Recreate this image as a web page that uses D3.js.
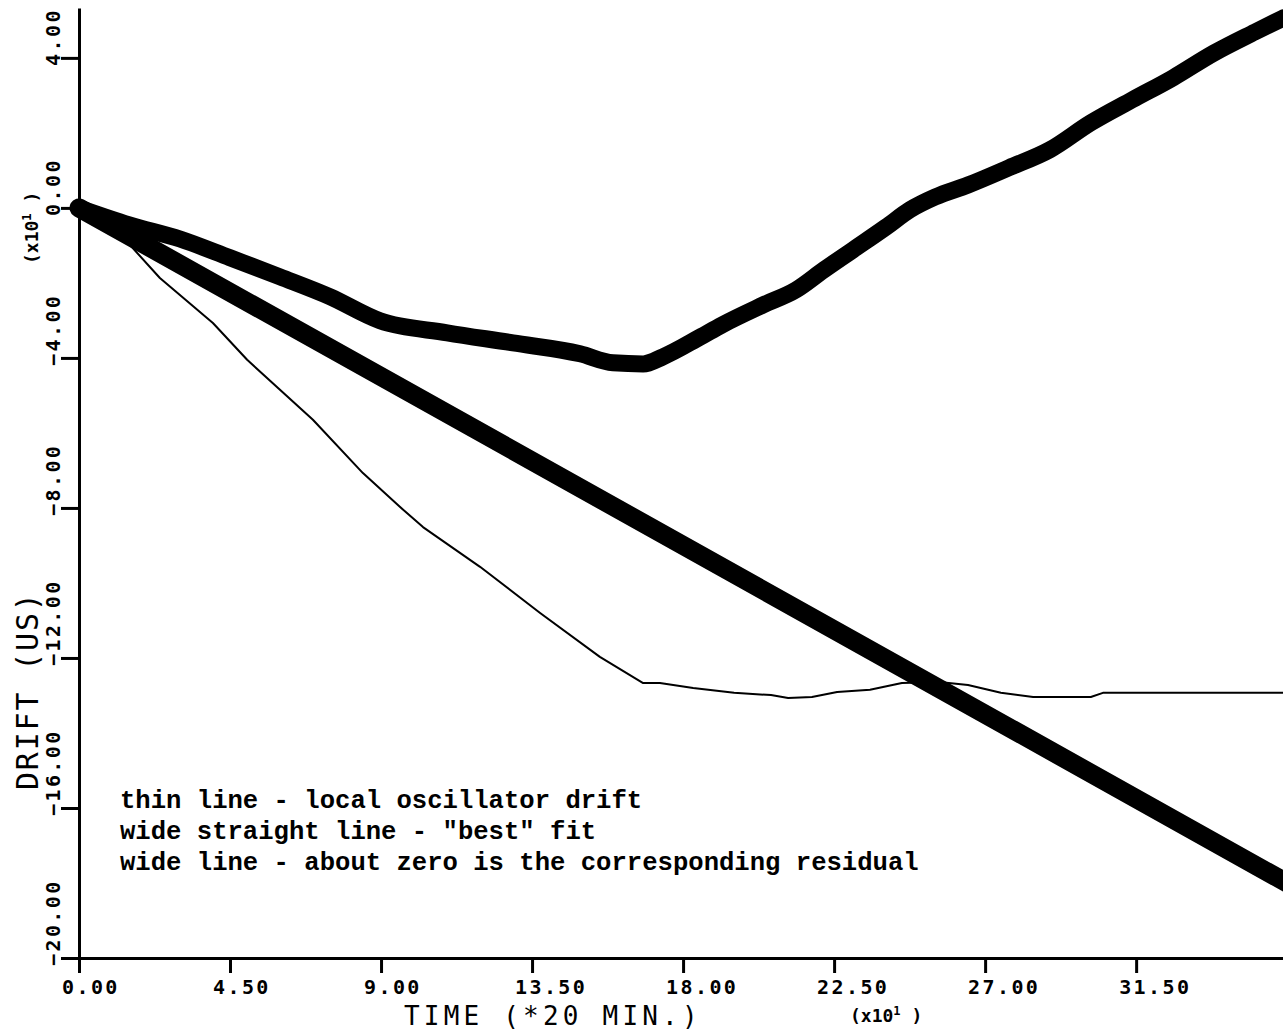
<!DOCTYPE html>
<html>
<head>
<meta charset="utf-8">
<script src="https://cdn.jsdelivr.net/npm/d3@7"></script>
<style>
  html, body { margin: 0; padding: 0; background: #fff; overflow: hidden; }
  svg { display: block; }
  .tick-label { font-family: "DejaVu Sans Mono", monospace; font-weight: bold; font-size: 20px; letter-spacing: 2.4px; fill: #000; }
  .axis-title { font-family: "DejaVu Sans Mono", monospace; font-size: 30px; letter-spacing: 1.8px; fill: #000; }
  .x-title { font-size: 26px; letter-spacing: 4.2px; }
  .mult { font-family: "DejaVu Sans Mono", monospace; font-weight: bold; font-size: 18px; fill: #000; }
  .legend { font-family: "Courier New", "Liberation Mono", monospace; font-weight: bold; font-size: 25.6px; fill: #000; }
</style>
</head>
<body>
<svg id="chart" width="1283" height="1032"></svg>
<script>
// Time axis in units of 10 samples (1 sample = 20 min); drift in units of 10 µs.
const driftTime  = [0, 1.52, 2.41, 3.99, 5.01, 6.97, 8.46, 9.56, 10.25, 11.95, 13.74, 15.52, 16.81, 17.31,
                    18.3, 19.52, 20.62, 21.13, 21.84, 22.59, 23.57, 24.52, 25.63, 26.49, 27.47, 28.43,
                    30.15, 30.51, 32.6, 35.9];
const driftValue = [0, -0.99, -1.87, -3.07, -4.05, -5.65, -7.07, -7.97, -8.51, -9.57, -10.8, -11.97, -12.67, -12.67,
                    -12.8, -12.93, -12.99, -13.07, -13.04, -12.91, -12.85, -12.67, -12.64, -12.72, -12.93, -13.04,
                    -13.04, -12.93, -12.93, -12.93];

// Least-squares line through the drift record
const fitTime  = [0, 36];
const fitValue = [0, -18];

// Drift minus the fitted line
const residualTime  = [0, 1.5, 3.01, 4.5, 5.99, 7.48, 8.97, 10.97, 12.93, 14.93, 15.91, 16.81, 17.4,
                       18.5, 19.16, 20.38, 21.36, 22.2, 23.06, 24.05, 24.76, 25.51, 26.49, 27.71, 28.93,
                       30.15, 31.38, 32.6, 33.82, 35.04, 35.9];
const residualValue = [0, -0.45, -0.83, -1.33, -1.84, -2.37, -3.01, -3.33, -3.6, -3.89, -4.13, -4.16, -3.97,
                       -3.45, -3.12, -2.59, -2.19, -1.65, -1.12, -0.51, -0.05, 0.29, 0.61, 1.07, 1.55,
                       2.27, 2.88, 3.47, 4.13, 4.69, 5.07];

const xTicks = [0, 4.5, 9, 13.5, 18, 22.5, 27, 31.5];
const yTicks = [-20, -16, -12, -8, -4, 0, 4];

const legendLines = [
  "thin line - local oscillator drift",
  "wide straight line - \"best\" fit",
  "wide line - about zero is the corresponding residual"
];

const svg = d3.select("#chart");

const x = d3.scaleLinear().domain([0, 36]).range([79, 79 + 36 * 33.56]);
const y = d3.scaleLinear().domain([-20, 5.33]).range([958, 8]);

// Axes
const yAxis = d3.axisLeft(y).tickValues(yTicks).tickSize(18).tickSizeOuter(0).tickFormat("");
const xAxis = d3.axisBottom(x).tickValues(xTicks).tickSize(15).tickSizeOuter(0).tickFormat("");

const gy = svg.append("g").attr("transform", `translate(${x(0)},0)`).call(yAxis);
const gx = svg.append("g").attr("transform", `translate(0,${y(-20)})`).call(xAxis);
[gy, gx].forEach(g => {
  g.selectAll("path.domain").attr("stroke", "#000").attr("stroke-width", 3);
  g.selectAll(".tick line").attr("stroke", "#000").attr("stroke-width", 3);
});

// Y tick labels, written upward along the axis
svg.append("g").selectAll("text").data(yTicks).join("text")
  .attr("class", "tick-label")
  .attr("text-anchor", "start")
  .attr("transform", d => `translate(60,${y(d) + 8}) rotate(-90)`)
  .text(d => d3.format(".2f")(d));

// X tick labels
svg.append("g").selectAll("text").data(xTicks).join("text")
  .attr("class", "tick-label")
  .attr("text-anchor", "start")
  .attr("x", d => x(d) - 17)
  .attr("y", 994)
  .text(d => d3.format(".2f")(d));

// Axis titles and scale multipliers
svg.append("text").attr("class", "axis-title")
  .attr("transform", "translate(38,790) rotate(-90)")
  .text("DRIFT (US)");
svg.append("text").attr("class", "axis-title x-title")
  .attr("x", 404).attr("y", 1025)
  .text("TIME (*20 MIN.)");

const yMult = svg.append("text").attr("class", "mult")
  .attr("transform", "translate(38,264) rotate(-90)");
yMult.append("tspan").text("(x10");
yMult.append("tspan").attr("dy", -7).attr("font-size", 12).text("1");
yMult.append("tspan").attr("dy", 7).text(" )");

const xMult = svg.append("text").attr("class", "mult").attr("x", 850).attr("y", 1022);
xMult.append("tspan").text("(x10");
xMult.append("tspan").attr("dy", -7).attr("font-size", 12).text("1");
xMult.append("tspan").attr("dy", 7).text(" )");

// Series
const line = d3.line().x(d => x(d[0])).y(d => y(d[1]));
const zipped = (t, v) => t.map((d, i) => [d, v[i]]);

svg.append("path")
  .attr("d", line(zipped(driftTime, driftValue)))
  .attr("fill", "none").attr("stroke", "#000").attr("stroke-width", 2)
  .attr("stroke-linejoin", "round");

svg.append("path")
  .attr("d", line(zipped(fitTime, fitValue)))
  .attr("fill", "none").attr("stroke", "#000").attr("stroke-width", 19)
  .attr("stroke-linecap", "round");

svg.append("path")
  .attr("d", line.curve(d3.curveMonotoneX)(zipped(residualTime, residualValue)))
  .attr("fill", "none").attr("stroke", "#000").attr("stroke-width", 17)
  .attr("stroke-linejoin", "round").attr("stroke-linecap", "round");

// Legend notes
svg.append("g").selectAll("text").data(legendLines).join("text")
  .attr("class", "legend")
  .attr("x", 120)
  .attr("y", (d, i) => 808 + i * 31)
  .text(d => d);
</script>
</body>
</html>
